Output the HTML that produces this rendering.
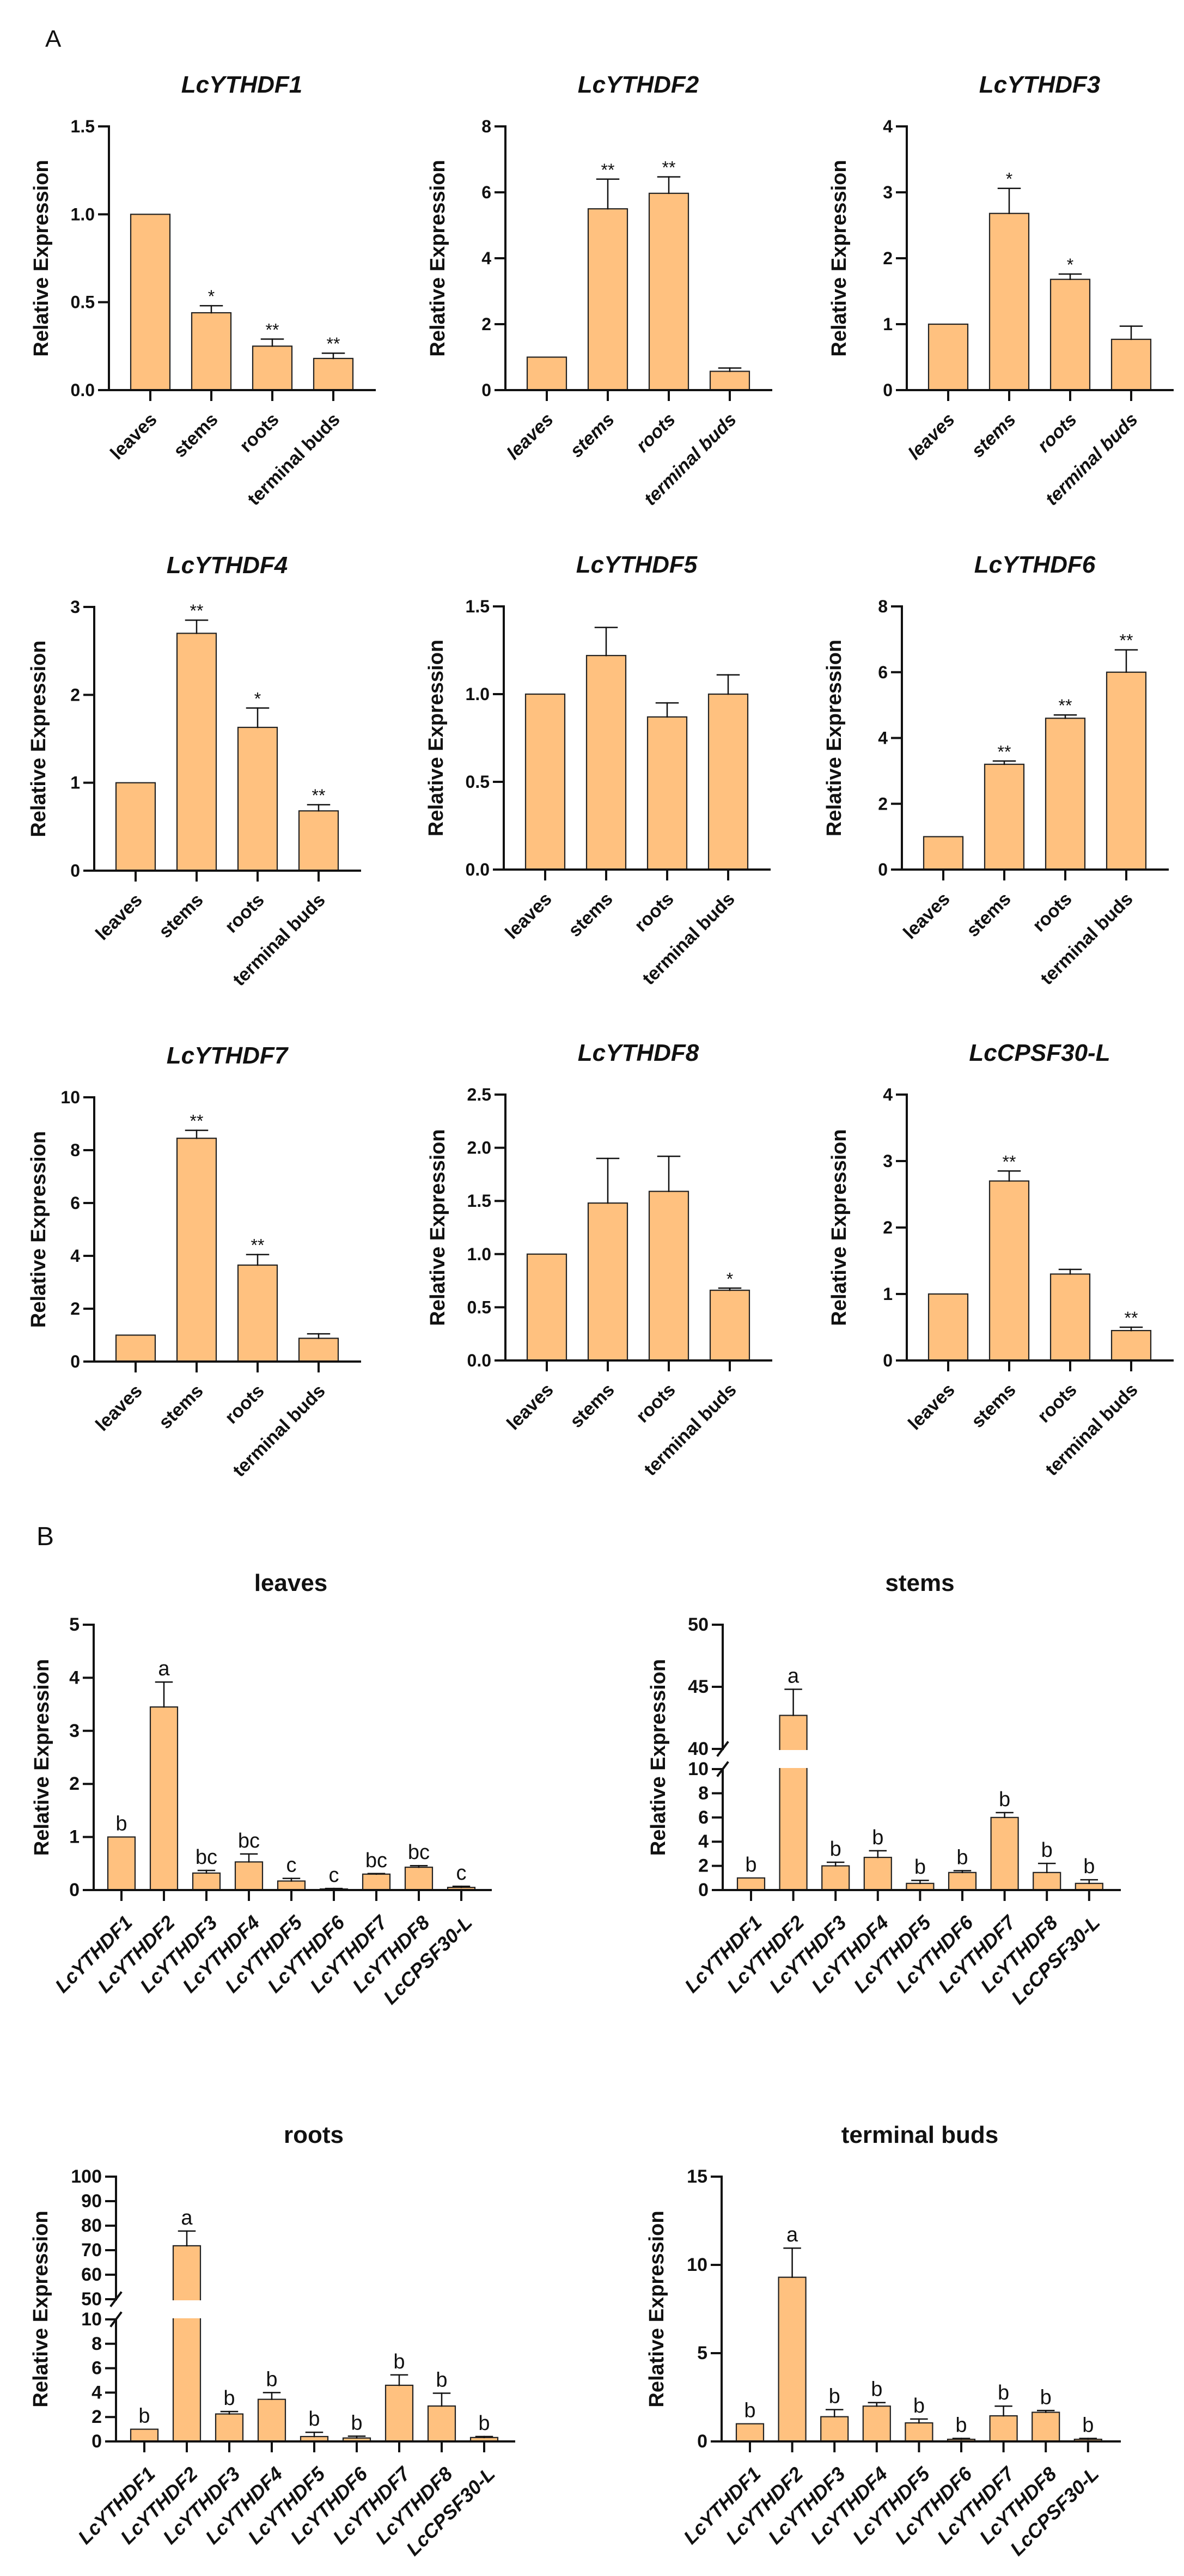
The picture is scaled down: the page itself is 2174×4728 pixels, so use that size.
<!DOCTYPE html>
<html><head><meta charset="utf-8">
<style>
html,body{margin:0;padding:0;background:#fff;}
svg{display:block;}
text{font-family:"Liberation Sans",Arial,sans-serif;fill:#111;}
</style></head>
<body>
<svg id="fig" width="2174" height="4728" viewBox="0 0 2174 4728" xmlns="http://www.w3.org/2000/svg">
<rect x="0" y="0" width="2174" height="4728" fill="#fff"/>
<text x="83" y="86" font-size="44">A</text>
<text x="67" y="2836" font-size="48">B</text>
</svg>
<script>
// ---------- DATA ----------
const tissues = ["leaves", "stems", "roots", "terminal buds"];
const genes = ["LcYTHDF1","LcYTHDF2","LcYTHDF3","LcYTHDF4","LcYTHDF5","LcYTHDF6","LcYTHDF7","LcYTHDF8","LcCPSF30-L"];

const ythdf1Values = [1, 0.44, 0.25, 0.18];
const ythdf1Errors = [0, 0.04, 0.04, 0.03];
const ythdf1Marks = ["", "*", "**", "**"];
const ythdf2Values = [1, 5.5, 5.97, 0.57];
const ythdf2Errors = [0, 0.9, 0.5, 0.1];
const ythdf2Marks = ["", "**", "**", ""];
const ythdf3Values = [1, 2.68, 1.68, 0.77];
const ythdf3Errors = [0, 0.38, 0.08, 0.2];
const ythdf3Marks = ["", "*", "*", ""];
const ythdf4Values = [1, 2.7, 1.63, 0.68];
const ythdf4Errors = [0, 0.15, 0.22, 0.07];
const ythdf4Marks = ["", "**", "*", "**"];
const ythdf5Values = [1, 1.22, 0.87, 1.0];
const ythdf5Errors = [0, 0.16, 0.08, 0.11];
const ythdf5Marks = ["", "", "", ""];
const ythdf6Values = [1, 3.2, 4.6, 6.0];
const ythdf6Errors = [0, 0.1, 0.1, 0.68];
const ythdf6Marks = ["", "**", "**", "**"];
const ythdf7Values = [1, 8.45, 3.65, 0.88];
const ythdf7Errors = [0, 0.3, 0.4, 0.17];
const ythdf7Marks = ["", "**", "**", ""];
const ythdf8Values = [1, 1.48, 1.59, 0.66];
const ythdf8Errors = [0, 0.42, 0.33, 0.02];
const ythdf8Marks = ["", "", "", "*"];
const cpsfValues = [1, 2.7, 1.3, 0.45];
const cpsfErrors = [0, 0.15, 0.07, 0.05];
const cpsfMarks = ["", "**", "", "**"];

const aTickValues = [[0,0.5,1,1.5],[0,2,4,6,8],[0,1,2,3,4],[0,1,2,3],[0,0.5,1,1.5],[0,2,4,6,8],[0,2,4,6,8,10],[0,0.5,1,1.5,2,2.5],[0,1,2,3,4]];
const aTickLabels = [["0.0","0.5","1.0","1.5"],["0","2","4","6","8"],["0","1","2","3","4"],["0","1","2","3"],["0.0","0.5","1.0","1.5"],["0","2","4","6","8"],["0","2","4","6","8","10"],["0.0","0.5","1.0","1.5","2.0","2.5"],["0","1","2","3","4"]];

const leavesValues = [1, 3.45, 0.32, 0.53, 0.17, 0.02, 0.30, 0.43, 0.05];
const leavesErrors = [0, 0.47, 0.05, 0.15, 0.05, 0.01, 0.01, 0.03, 0.02];
const leavesLetters = ["b","a","bc","bc","c","c","bc","bc","c"];
const stemsValues = [1, 42.7, 2.0, 2.7, 0.55, 1.45, 6.0, 1.45, 0.55];
const stemsErrors = [0, 2.1, 0.3, 0.55, 0.25, 0.15, 0.4, 0.75, 0.3];
const stemsLetters = ["b","a","b","b","b","b","b","b","b"];
const rootsValues = [1, 71.8, 2.25, 3.45, 0.4, 0.28, 4.6, 2.9, 0.32];
const rootsErrors = [0, 6.0, 0.2, 0.55, 0.35, 0.15, 0.85, 1.05, 0.08];
const rootsLetters = ["b","a","b","b","b","b","b","b","b"];
const budsValues = [1, 9.3, 1.4, 2.0, 1.05, 0.12, 1.45, 1.65, 0.12];
const budsErrors = [0, 1.65, 0.4, 0.2, 0.22, 0.05, 0.55, 0.1, 0.05];
const budsLetters = ["b","a","b","b","b","b","b","b","b"];

const leavesTicks = [0,1,2,3,4,5];
const stemsTicks = [0,2,4,6,8,10,40,45,50];
const rootsTicks = [0,2,4,6,8,10,50,60,70,80,90,100];
const budsTicks = [0,5,10,15];

// ---------- DRAWING ----------
const NS = "http://www.w3.org/2000/svg";
const svg = document.getElementById("fig");
const FILL = "#FFC17F", STROKE = "#222";
function mk(tag, attrs, parent) {
  const e = document.createElementNS(NS, tag);
  for (const k in attrs) e.setAttribute(k, attrs[k]);
  (parent || svg).appendChild(e);
  return e;
}
function line(x1,y1,x2,y2,w,g){ return mk("line",{x1:x1,y1:y1,x2:x2,y2:y2,stroke:"#111","stroke-width":w,"stroke-linecap":"square"},g); }

// piecewise scale: segs = [[v0,v1,y0,y1],...]
function makeScale(segs){
  return function(v){
    for (const s of segs){ if (v <= s[1] + 1e-9) { return s[2] + (v - s[0]) / (s[1] - s[0]) * (s[3] - s[2]); } }
    const s = segs[segs.length-1];
    return s[2] + (v - s[0]) / (s[1] - s[0]) * (s[3] - s[2]);
  };
}

function drawPanel(c){
  const g = mk("g",{});
  
  
  const y = makeScale(c.segs);
  const zeroY = y(0);
  // title
  const t = mk("text",{x:c.ax + c.titleDx, y:c.titleY, "font-size":c.titleSize, "font-weight":"bold", "text-anchor":"middle", "font-style":c.titleItalic?"italic":"normal"}, g);
  t.textContent = c.title;
  
  
  // y label
  const midY = (zeroY + y(c.segs[c.segs.length-1][1])) / 2;
  const yl = mk("text",{x:0,y:0,"font-size":38,"font-weight":"bold","text-anchor":"middle",transform:"translate("+(c.ax - c.ylDx)+","+midY+") rotate(-90)"}, g);
  yl.textContent = "Relative Expression";
  
  
  // bars
  c.values.forEach(function(v,i){
    const cx = c.ax + c.off + c.step*i;
    const top = y(v);
    const r = mk("rect",{x:cx - c.bw/2, y:top, width:c.bw, height:Math.max(zeroY - top, 1), fill:FILL, stroke:STROKE, "stroke-width":2.2}, g);
    
    
    if (c.gap && v > c.gap[1]) {
      const gr = mk("rect",{x:cx - c.bw/2 - 3, y:y(c.gap[1]) + 2, width:c.bw + 6, height:y(c.gap[0]) - y(c.gap[1]) - 4, fill:"#fff"}, g);
      
      
    }
    const e = c.errors[i];
    const et = y(v + e);
    if (e > 0) {
      line(cx, top, cx, et, 2.5, g);
      line(cx - c.cap/2, et, cx + c.cap/2, et, 2.5, g);
    }
    const mark = c.marks[i];
    if (mark) {
      const m = mk("text",{x:cx, y:et - c.markDy, "font-size":c.markSize, "text-anchor":"middle"}, g);
      m.textContent = mark;
      
      
    }
    // x tick
    line(cx, zeroY, cx, zeroY + 18, 4, g);
    const lx = cx + c.lblDx, ly = zeroY + c.lblDy;
    const lb = mk("text",{x:0,y:0,"font-size":c.catSize,"font-weight":"bold","font-style":c.catItalic?"italic":"normal","text-anchor":"end",transform:"translate("+lx+","+ly+") rotate(-45)"}, g);
    lb.textContent = c.cats[i];
    
    
  });
  // axes
  line(c.ax - 18, zeroY, c.ax + c.axLen, zeroY, 4, g);
  if (c.gap) {
    line(c.ax, zeroY, c.ax, y(c.gap[0]), 4, g);
    line(c.ax, y(c.gap[1]), c.ax, y(c.segs[c.segs.length-1][1]), 4, g);
    line(c.ax - 9, y(c.gap[0]) + 12, c.ax + 9, y(c.gap[0]) - 12, 4, g);
    line(c.ax - 9, y(c.gap[1]) + 12, c.ax + 9, y(c.gap[1]) - 12, 4, g);
  } else {
    line(c.ax, zeroY, c.ax, y(c.segs[c.segs.length-1][1]), 4, g);
  }
  c.ticks.forEach(function(tv,i){
    const ty = y(tv);
    line(c.ax - 18, ty, c.ax, ty, 4, g);
    const tl = mk("text",{x:c.ax - 26, y:ty + 11, "font-size":c.tickSize, "font-weight":"bold", "text-anchor":"end"}, g);
    tl.textContent = c.tickLabels ? c.tickLabels[i] : String(tv);
    
    
  });
}

// Panel A
const aData = [
  [ythdf1Values, ythdf1Errors, ythdf1Marks],
  [ythdf2Values, ythdf2Errors, ythdf2Marks],
  [ythdf3Values, ythdf3Errors, ythdf3Marks],
  [ythdf4Values, ythdf4Errors, ythdf4Marks],
  [ythdf5Values, ythdf5Errors, ythdf5Marks],
  [ythdf6Values, ythdf6Errors, ythdf6Marks],
  [ythdf7Values, ythdf7Errors, ythdf7Marks],
  [ythdf8Values, ythdf8Errors, ythdf8Marks],
  [cpsfValues, cpsfErrors, cpsfMarks]
];
const aLayout = [
  [200,716,232],[928,716,232],[1665,716,232],
  [173,1598,1114],[925,1596,1113],[1656,1596,1113],
  [173,2499,2014],[928,2497,2009],[1665,2497,2009]
];
aData.forEach(function(d,k){
  const L = aLayout[k];
  const ticks = aTickValues[k];
  const maxV = ticks[ticks.length-1];
  drawPanel({
    name: 'chart-' + genes[k].toLowerCase(),
    ax:L[0], segs:[[0,maxV,L[1],L[2]]],
    title:genes[k], titleItalic:true, titleDx:244, titleY:L[2]-62, titleSize:44,
    ylDx:(k===3||k===6)?90:112,
    values:d[0], errors:d[1], marks:d[2], letters:false,
    cats:tissues, catItalic:(k===1||k===2), catSize:34, lblDx:14, lblDy:56,
    off:76, step:112, bw:72, cap:40, axLen:488,
    markSize:32, markDy:6, ticks:ticks, tickLabels:aTickLabels[k], tickSize:32
  });
});

// Panel B
const bCommon = {titleItalic:false, titleSize:44, letters:true, cats:genes, catItalic:true, catSize:36,
  lblDx:22, lblDy:62, step:78, bw:50, cap:30, markSize:38, markDy:12, tickSize:34};
function bPanel(o){ drawPanel(Object.assign({}, bCommon, o)); }
bPanel({name:'chart-leaves', ax:172, segs:[[0,5,3469,2982]], title:"leaves", titleDx:362, titleY:2920, ylDx:83,
  values:leavesValues, errors:leavesErrors, marks:leavesLetters, off:51, axLen:729, ticks:leavesTicks});
bPanel({name:'chart-stems', ax:1327, segs:[[0,10,3469,3247],[40,50,3210,2982]], gap:[10,40], title:"stems", titleDx:362, titleY:2920, ylDx:106,
  values:stemsValues, errors:stemsErrors, marks:stemsLetters, off:52, step:77.6, axLen:729, ticks:stemsTicks});
bPanel({name:'chart-roots', ax:213, segs:[[0,10,4481,4257],[50,100,4220,3995]], gap:[10,50], title:"roots", titleDx:363, titleY:3933, ylDx:126,
  values:rootsValues, errors:rootsErrors, marks:rootsLetters, off:52, axLen:731, ticks:rootsTicks});
bPanel({name:'chart-terminal-buds', ax:1325, segs:[[0,15,4481,3995]], title:"terminal buds", titleDx:364, titleY:3933, ylDx:107,
  values:budsValues, errors:budsErrors, marks:budsLetters, off:52, step:77.6, axLen:731, ticks:budsTicks});
</script>
</body></html>
